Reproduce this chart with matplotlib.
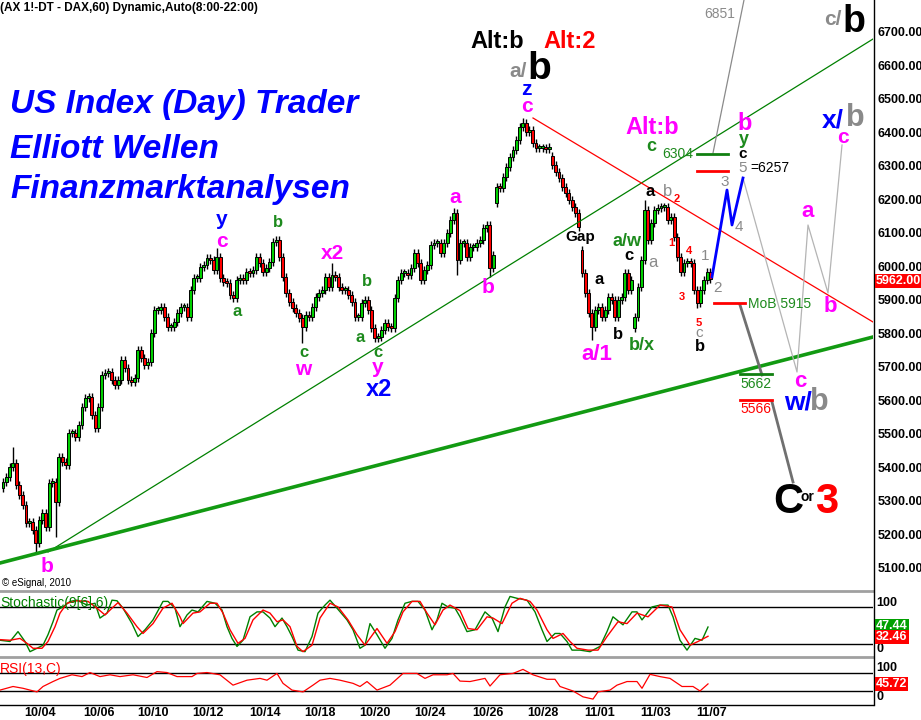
import matplotlib
matplotlib.use('Agg')
import matplotlib.pyplot as plt
from matplotlib.lines import Line2D

plt.rcParams['font.family'] = ['Liberation Sans', 'DejaVu Sans']

PATH_TO_IMAGE = 'out.png'

# DAX future, 60 min bars (closes)
closes = [
    5357, 5372, 5402, 5413, 5348, 5318, 5288, 5234, 5237, 5213,
    5175, 5243, 5264, 5222, 5354, 5357, 5297, 5431, 5416, 5407,
    5503, 5503, 5491, 5527, 5581, 5607, 5610, 5557, 5518, 5581,
    5676, 5682, 5685, 5661, 5646, 5661, 5721, 5697, 5661, 5655,
    5667, 5751, 5727, 5706, 5715, 5802, 5870, 5870, 5879, 5849,
    5819, 5819, 5834,
    5861, 5879, 5879, 5849, 5930, 5966, 5966, 5999, 6004, 6025,
    6019, 5990, 6028, 5966, 5954, 5951, 5915, 5906, 5960, 5966,
    5960, 5984, 5981, 5990, 6028, 6010, 5984, 5996, 6013, 6073,
    6079, 6028, 5969, 5921, 5894, 5876, 5861, 5846, 5819, 5855,
    5849, 5879, 5909, 5921, 5930, 5969, 5939, 5975, 5969, 5939,
    5930, 5930, 5915, 5894,
    5849, 5849, 5891, 5900, 5870, 5816, 5787, 5790, 5810, 5831,
    5819, 5816, 5906, 5960, 5981, 5981, 5975, 5996, 6040, 6010,
    5960, 5990, 6004, 6064, 6070, 6070, 6040, 6070, 6100, 6139,
    6160, 6019, 6070, 6070, 6028, 6058, 6058, 6070, 6079, 6115,
    6124, 5996, 6034,
    6237, 6234, 6267, 6297, 6327, 6348, 6378, 6416, 6428, 6401,
    6407, 6369, 6354, 6354, 6354, 6351, 6357,
    6303, 6282, 6264, 6237, 6219, 6199, 6178, 6160, 6118,
    5981, 5921, 5861, 5819, 5870, 5879, 5849, 5870, 5909, 5900,
    5849, 5900, 5909, 5981, 5930, 5960, 5850, 5939, 6019, 6169,
    6079, 6130, 6169, 6175, 6178, 6178, 6139, 6148, 6088, 6028,
    5984, 6010, 6013, 6010, 5930, 5891, 5930, 5960, 5984, 5962,
]
# opens after session gaps (bar index -> price), other bars open at previous close
gap_opens = {0: 5340, 150: 6190, 167: 6330, 176: 6049, 192: 5815}
# long wicks (bar index -> price)
wick_high = {3: 5461, 65: 6055, 100: 6010, 137: 6175, 158: 6443, 195: 6199}
wick_low = {10: 5148, 16: 5193, 91: 5772, 138: 5975, 148: 5969, 179: 5781, 192: 5805, 211: 5876}

# Stochastic(9[6],6), time axis in chart columns
stoch_k_x = [0, 10, 18, 25, 30, 37, 43, 48, 53, 57, 63, 70, 77, 87, 95, 100, 107, 112, 117, 123,
             132, 138, 145, 153, 163, 168, 175, 180, 187, 192, 198, 207, 215, 222, 227, 232, 237, 243, 250, 257,
             263, 270, 275, 282, 287, 292, 298, 305, 312, 318, 325, 330, 337, 347, 353, 360, 365, 370, 377, 385,
             392, 398, 405, 412, 418, 425, 432, 437, 442, 448, 455, 460,
             467, 475, 485, 492, 498, 505, 510, 517, 527, 535, 542, 547, 555, 560, 567, 572, 580, 590, 600, 607,
             613, 623, 632, 637, 642, 652, 660, 668, 673, 680, 687, 695, 702, 708]
stoch_k = [26, 24, 40, 24, 7.5, 13, 18, 35, 56, 75, 80, 89, 91, 83, 86, 62, 70, 91, 90, 78,
           53, 32, 43, 59, 89, 89, 78, 48, 67, 75, 72, 89, 86, 75, 48, 29, 16, 26, 64, 72,
           72, 62, 48, 62, 48, 32, 10, 7.5, 32, 70, 83, 91, 78, 59, 43, 13, 18, 53, 35, 13,
           29, 59, 86, 89, 89, 75, 43, 59, 86, 80, 78, 64,
           40, 43, 72, 62, 40, 80, 97, 94, 91, 72, 43, 24, 37, 37, 24, 10, 10, 7.5, 16, 40,
           64, 51, 72, 72, 59, 80, 83, 83, 64, 26, 10, 29, 26, 47.44]
stoch_d_x = [0, 10, 20, 27, 33, 42, 48, 55, 60, 67, 77, 88, 97, 105, 112, 118, 127, 137, 143, 153,
             163, 172, 180, 183, 193, 200, 210, 217, 223, 230, 238, 245, 253, 263, 270, 277, 283, 290, 297, 303,
             312, 320, 330, 338, 348, 357, 365, 377, 387, 395, 403, 412, 420, 427, 435, 443, 450, 460,
             468, 477, 487, 493, 502, 512, 520, 530, 537, 547, 553, 563, 570, 577, 588, 598, 607, 618,
             627, 637, 648, 660, 672, 680, 690, 698, 708]
stoch_d = [27, 26, 29, 21, 13, 13, 24, 48, 70, 86, 90, 89, 78, 67, 78, 87, 70, 48, 37, 53,
           78, 86, 64, 53, 70, 72, 86, 86, 70, 43, 21, 29, 59, 75, 70, 56, 59, 48, 16, 7.5,
           18, 62, 86, 80, 59, 35, 18, 45, 21, 40, 72, 89, 89, 70, 51, 75, 83, 74,
           45, 43, 64, 62, 53, 86, 94, 89, 75, 43, 29, 37, 24, 13, 10, 10, 32, 56,
           53, 70, 64, 83, 80, 43, 18, 24, 32.46]

# RSI(13,C)
rsi_x = [0, 13, 23, 37, 43, 53, 60, 72, 82, 90, 100, 110, 120, 133, 147, 157, 167, 177, 192, 197,
         207, 220, 233, 247, 260, 267, 277, 283, 292, 303, 313, 320, 330, 340, 353, 360, 367, 377, 390, 403,
         417, 425, 433, 447, 453, 460,
         470, 485, 490, 500, 513, 523, 533, 547, 555, 560, 573, 583, 593, 598, 610, 617, 627, 637, 642,
         650, 660, 670, 682, 693, 700, 708]
rsi = [32, 40, 36, 28, 40, 51, 58, 66, 62, 71, 62, 66, 62, 66, 60, 73, 71, 62, 62, 69,
       71, 66, 43, 54, 58, 54, 69, 47, 32, 28, 43, 54, 58, 54, 47, 40, 51, 32, 43, 69,
       69, 58, 66, 66, 69, 52,
       51, 58, 41, 66, 69, 78, 66, 56, 56, 40, 30, 17, 12, 28, 32, 43, 51, 51, 36,
       67, 62, 58, 40, 40, 30, 45.72]

price_ticks = list(range(5100, 6701, 100))
date_labels = ['10/04', '10/06', '10/10', '10/12', '10/14', '10/18', '10/20',
               '10/24', '10/26', '10/28', '11/01', '11/03', '11/07']
date_cols = [40, 99, 153, 208, 265, 320, 375, 430, 488, 543, 600, 656, 712]

MAG = '#ff00ff'
BLU = '#0000ff'
GRN = '#1d8a1d'
GRY = '#8a8a8a'
RED = '#ff0000'


def yp(y):
    # screen row of the price panel -> price
    return 6700 - (y - 32) / 0.335


def rect(x0, y0, x1, y1):
    return [x0 / 921, 1 - y1 / 720, (x1 - x0) / 921, (y1 - y0) / 720]


def fline(x0, y0, x1, y1, **kw):
    fig.add_artist(Line2D([x0 / 921, x1 / 921], [1 - y0 / 720, 1 - y1 / 720],
                          transform=fig.transFigure, **kw))


def ftext(x, y, s, **kw):
    fig.text(x / 921, 1 - y / 720, s, va='center', **kw)


def lab(x, y, s, color, size, weight='bold', **kw):
    ax.text(x, yp(y), s, color=color, fontsize=size, fontweight=weight,
            ha='center', va='center', zorder=6, **kw)


fig = plt.figure(figsize=(9.21, 7.2), dpi=100)
ax = fig.add_axes(rect(0, 0, 873, 589))
ax_st = fig.add_axes(rect(0, 593, 873, 655))
ax_rsi = fig.add_axes(rect(0, 658, 873, 704))

for a in (ax, ax_st, ax_rsi):
    a.set_xlim(0, 873)
    for s in a.spines.values():
        s.set_visible(False)
    a.set_xticks([])
    a.set_facecolor('none')

# candles
n = len(closes)
xs = [3 + 3.29 * i for i in range(n)]
opens = [gap_opens.get(i, closes[i - 1] if i else closes[0]) for i in range(n)]
highs = [wick_high.get(i, max(o, c) + 12) for i, (o, c) in enumerate(zip(opens, closes))]
lows = [wick_low.get(i, min(o, c) - 12) for i, (o, c) in enumerate(zip(opens, closes))]
bottoms = [min(o, c) for o, c in zip(opens, closes)]
heights = [max(abs(c - o), 5) for o, c in zip(opens, closes)]
cols = ['#00d000' if c >= o else '#ff0000' for o, c in zip(opens, closes)]
ax.vlines(xs, lows, highs, color='black', lw=1.0, zorder=2)
ax.bar(xs, heights, bottom=bottoms, width=2.9, color=cols, edgecolor='black', linewidth=0.7, zorder=3)

ax.set_ylim(yp(589), yp(0))
ax.yaxis.tick_right()
ax.set_yticks(price_ticks)
ax.set_yticklabels([f'{v}.00' for v in price_ticks], fontsize=9, fontweight='bold')
ax.tick_params(axis='y', length=0, pad=3)

# trend lines
ax.plot([48, 873], [yp(552), yp(39)], color='#008000', lw=0.9, zorder=4)
ax.plot([0, 873], [yp(563), yp(337)], color='#129a12', lw=2.6, zorder=4)
ax.plot([533, 873], [yp(118), yp(322)], color=RED, lw=0.9, zorder=4)

# projections
ax.plot([712, 727, 732, 743], [yp(277), yp(190), yp(225), yp(178)], color=BLU, lw=2, zorder=5)
ax.plot([743, 797, 808, 828, 842], [yp(178), yp(372), yp(225), yp(293), yp(145)],
        color='#b4b4b4', lw=0.9, zorder=4)
ax.plot([713, 744], [yp(153), yp(0)], color=GRY, lw=0.9, zorder=4)
ax.plot([740, 762], [yp(305), yp(375)], color='#707070', lw=2, zorder=4)
ax.plot([772, 793], [yp(402), yp(482)], color='#707070', lw=2, zorder=4)
ax.plot([697, 728], [yp(154), yp(154)], color='#108010', lw=2, zorder=5)
ax.plot([697, 728], [yp(171), yp(171)], color=RED, lw=2, zorder=5)
ax.plot([714, 745], [yp(303), yp(303)], color=RED, lw=2, zorder=5)
ax.plot([740, 772], [yp(374), yp(374)], color='#108010', lw=2, zorder=5)
ax.plot([740, 772], [yp(400), yp(400)], color=RED, lw=2, zorder=5)

# headline
for y, s in [(105, 'US Index (Day) Trader'), (150, 'Elliott Wellen'), (190, 'Finanzmarktanalysen')]:
    ax.text(10, yp(y), s, color=BLU, fontsize=24, fontweight='bold', fontstyle='italic',
            ha='left', va='center', zorder=6)

# wave labels
lab(47, 567, 'b', MAG, 15)
lab(222, 220, 'y', BLU, 15)
lab(222, 242, 'c', MAG, 15)
lab(237, 312, 'a', GRN, 12)
lab(278, 223, 'b', GRN, 12)
lab(304, 353, 'c', GRN, 12)
lab(303, 370, 'w', MAG, 15)
lab(332, 254, 'x2', MAG, 15)
lab(367, 282, 'b', GRN, 12)
lab(360, 338, 'a', GRN, 12)
lab(378, 353, 'c', GRN, 12)
lab(378, 368, 'y', MAG, 15)
lab(379, 390, 'x2', BLU, 17)
lab(455, 198, 'a', MAG, 15)
lab(488, 288, 'b', MAG, 15)
lab(497, 42, 'Alt:b', 'black', 17)
lab(570, 42, 'Alt:2', RED, 17)
lab(518, 72, 'a/', GRY, 15)
lab(539, 69, 'b', 'black', 28)
lab(526, 90, 'z', BLU, 15)
lab(527, 107, 'c', MAG, 15)
lab(580, 237, 'Gap', 'black', 11)
lab(599, 280, 'a', 'black', 12)
lab(629, 256, 'c', 'black', 12)
lab(627, 242, 'a/w', GRN, 13)
lab(618, 335, 'b', 'black', 12)
lab(597, 355, 'a/1', MAG, 16)
lab(642, 346, 'b/x', GRN, 13)
lab(650, 192, 'a', 'black', 12)
lab(668, 192, 'b', GRY, 12, weight='normal')
lab(677, 199, '2', RED, 8)
lab(653, 263, 'a', GRY, 12, weight='normal')
lab(671, 243, '1', RED, 8)
lab(689, 251, '4', RED, 8)
lab(682, 297, '3', RED, 8)
lab(699, 323, '5', RED, 8)
lab(699, 333, 'c', GRY, 11, weight='normal')
lab(700, 347, 'b', 'black', 12)
lab(652, 128, 'Alt:b', MAG, 17)
lab(651, 147, 'c', GRN, 13)
lab(678, 154, '6304', GRN, 10, weight='normal')
lab(720, 14, '6851', GRY, 10, weight='normal')
lab(745, 124, 'b', MAG, 17)
lab(744, 140, 'y', GRN, 13)
lab(743, 154, 'c', 'black', 11)
lab(743, 168, '5', GRY, 11, weight='normal')
lab(770, 168, '=6257', 'black', 10, weight='normal')
lab(725, 182, '3', GRY, 11, weight='normal')
lab(739, 227, '4', GRY, 11, weight='normal')
lab(705, 256, '1', GRY, 11, weight='normal')
lab(717, 288, '2', GRY, 11, weight='normal')
lab(780, 304, 'MoB 5915', GRN, 10, weight='normal')
lab(756, 384, '5662', GRN, 10, weight='normal')
lab(756, 409, '5566', RED, 10, weight='normal')
lab(800, 382, 'c', MAG, 16)
lab(798, 403, 'w/', BLU, 19)
lab(819, 402, 'b', GRY, 22)
lab(788, 502, 'C', 'black', 30)
lab(807, 497, 'or', 'black', 10)
lab(827, 502, '3', RED, 30)
lab(808, 212, 'a', MAG, 16)
lab(830, 307, 'b', MAG, 16)
lab(833, 121, 'x/', BLU, 19)
lab(855, 118, 'b', GRY, 22)
lab(843, 138, 'c', MAG, 15)
lab(833, 20, 'c/', GRY, 15)
lab(854, 22, 'b', 'black', 27)

# stochastic panel
ax_st.set_ylim(2.1, 102.6)
ax_st.set_yticks([])
ax_st.axhline(80, color='black', lw=1)
ax_st.axhline(20, color='black', lw=1)
ax_st.plot(stoch_k_x, stoch_k, color='#008000', lw=1)
ax_st.plot(stoch_d_x, stoch_d, color=RED, lw=1)

# RSI panel
ax_rsi.set_ylim(1.1, 103.3)
ax_rsi.set_yticks([])
ax_rsi.axhline(70, color='black', lw=1)
ax_rsi.axhline(30, color='black', lw=1)
ax_rsi.plot(rsi_x, rsi, color=RED, lw=0.9)

# frame
fline(0, 590.5, 873, 590.5, color='#a0a0a0', lw=2)
fline(0, 656.5, 873, 656.5, color='#a0a0a0', lw=2)
fline(0, 704.5, 873, 704.5, color='black', lw=1)
fline(873.5, 0, 873.5, 705, color='black', lw=1)

# texts
ftext(0, 8, '(AX 1!-DT - DAX,60) Dynamic,Auto(8:00-22:00)', fontsize=8.5, fontweight='bold')
ftext(2, 583, '\u00a9 eSignal, 2010', fontsize=7)
ftext(0, 603, 'Stochastic(9[6],6)', fontsize=10, color='#008000')
ftext(0, 669, 'RSI(13,C)', fontsize=10, color=RED)
for s, x in zip(date_labels, date_cols):
    ftext(x, 713, s, fontsize=9, fontweight='bold', ha='center')
for s, y in [('100', 603), ('0', 649), ('100', 668), ('0', 697)]:
    ftext(876, y, s, fontsize=9, fontweight='bold')
box = dict(boxstyle='square,pad=0.08', ec='none')
ftext(876, 281, '5962.00', fontsize=9, fontweight='bold', color='white', bbox=dict(box, fc=RED))
ftext(876, 626, '47.44', fontsize=9, fontweight='bold', color='white', bbox=dict(box, fc='#00a000'))
ftext(876, 637, '32.46', fontsize=9, fontweight='bold', color='white', bbox=dict(box, fc=RED))
ftext(876, 684, '45.72', fontsize=9, fontweight='bold', color='white', bbox=dict(box, fc=RED))

fig.savefig(PATH_TO_IMAGE, dpi=100)
